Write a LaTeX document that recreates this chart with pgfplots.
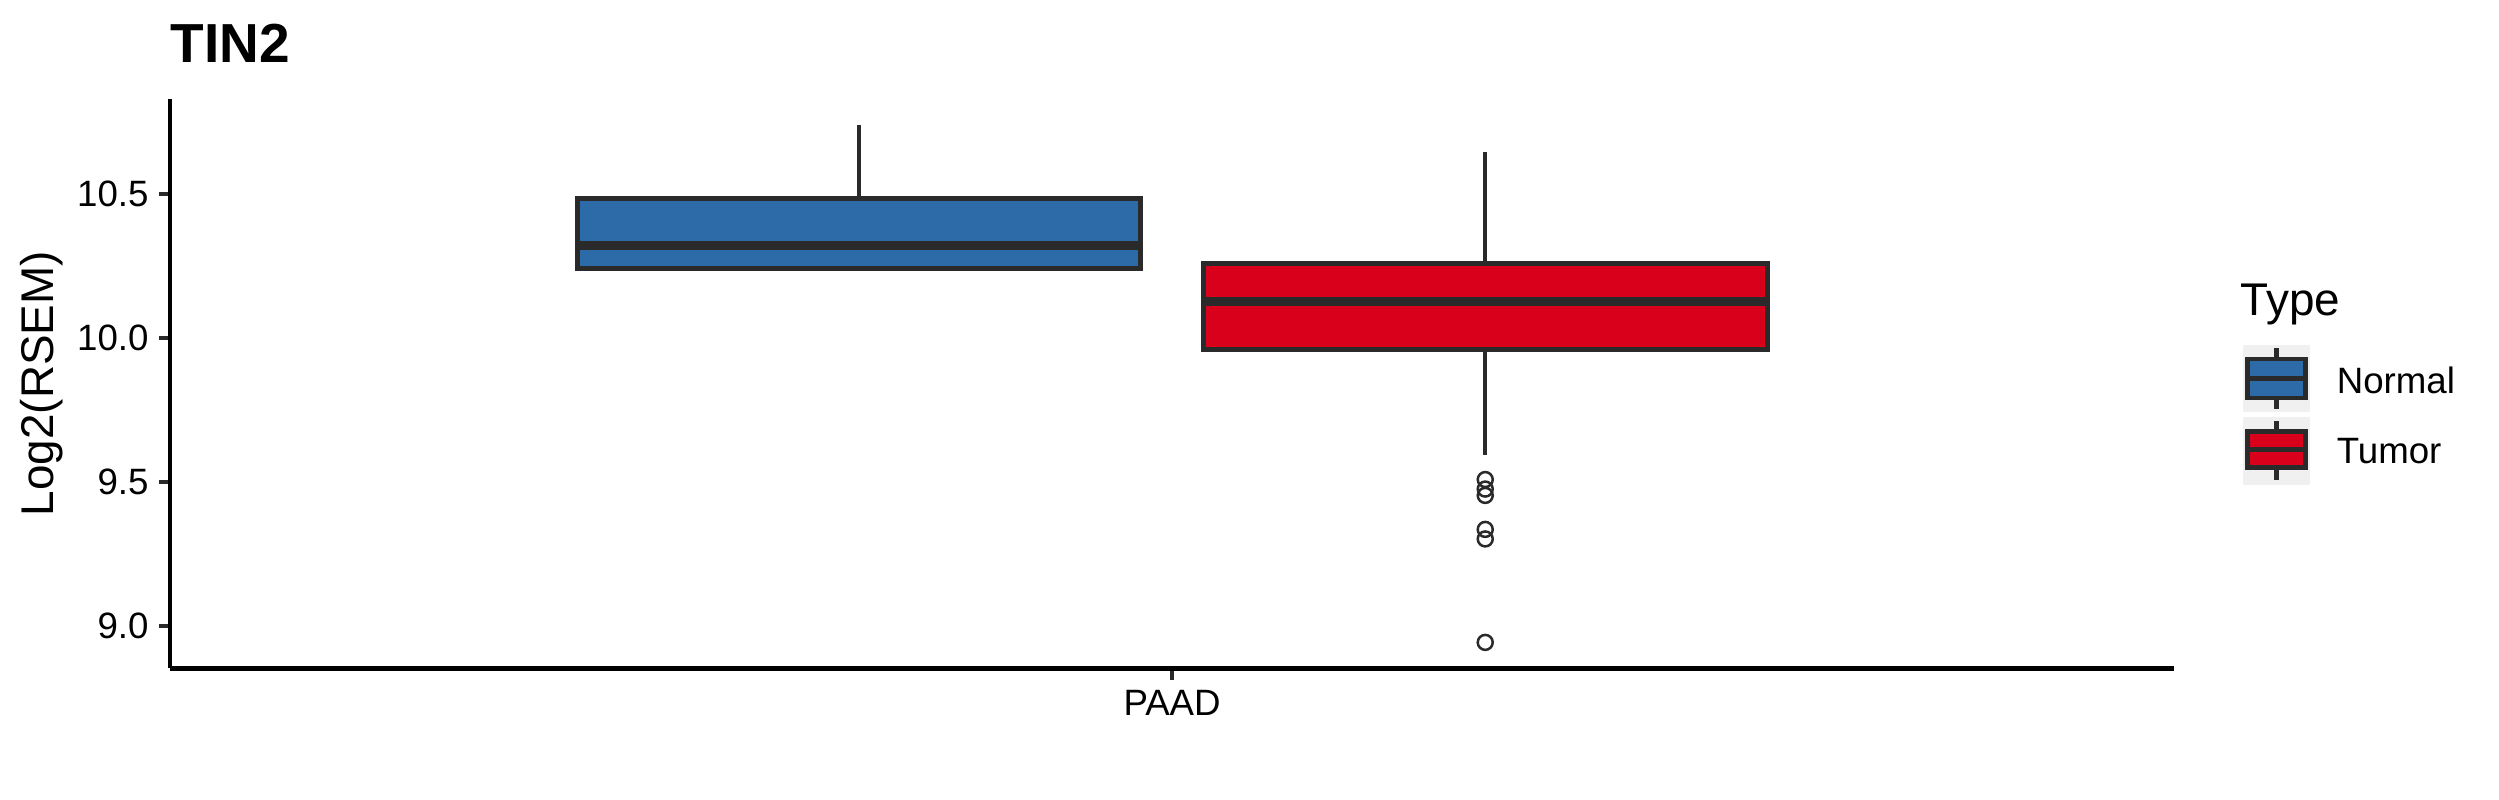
\documentclass[border=0pt]{standalone}
\usepackage{pgfplots}
\pgfplotsset{compat=1.18}
\usepackage{fontspec}
\setmainfont{Liberation Sans}
\definecolor{nblue}{HTML}{2C6AA8}
\definecolor{tred}{HTML}{D8001A}
\definecolor{edge}{HTML}{2A2A2A}
\definecolor{keybg}{HTML}{F0F0F0}

\begin{document}
\begin{tikzpicture}
\begin{axis}[
    scale only axis,
    width=481pt, height=136.6pt,
    xmin=0.4, xmax=1.6,
    ymin=8.854, ymax=10.829,
    axis lines=left,
    axis line style={-, line width=1.07pt, black},
    xtick={1}, xticklabels={PAAD},
    ytick={9,9.5,10,10.5},
    tick align=outside,
    major tick length=2.75pt,
    tick style={line width=1.07pt, color=edge},
    tick label style={font=\fontsize{8.8}{10}\selectfont, text=black, inner sep=0pt},
    yticklabel style={anchor=east, xshift=-2.2pt,
        /pgf/number format/.cd, fixed, fixed zerofill, precision=1, assume math mode=true},
    xticklabel style={anchor=north, yshift=-2.2pt},
    whisk/.style={edge, line width=1.07pt, mark=none},
    box/.style={draw=edge, line width=1.2pt, mark=none},
    med/.style={edge, line width=2.13pt, mark=none},
]
% Normal: whiskers, box (Q1..Q3), median
\addplot[whisk] coordinates {(0.8125,10.485) (0.8125,10.739)};
\addplot[whisk] coordinates {(0.8125,10.243) (0.8125,10.232)};
\addplot[box, fill=nblue] coordinates {
    (0.64375,10.243) (0.98125,10.243) (0.98125,10.485) (0.64375,10.485)} -- cycle;
\addplot[med] coordinates {(0.64375,10.321) (0.98125,10.321)};
% Tumor
\addplot[whisk] coordinates {(1.1875,10.259) (1.1875,10.645)};
\addplot[whisk] coordinates {(1.1875,9.961) (1.1875,9.595)};
\addplot[box, fill=tred] coordinates {
    (1.01875,9.961) (1.35625,9.961) (1.35625,10.259) (1.01875,10.259)} -- cycle;
\addplot[med] coordinates {(1.01875,10.127) (1.35625,10.127)};
% Tumor outliers
\addplot[only marks, mark=o, mark size=1.8pt, draw=edge, line width=0.6pt] coordinates {
    (1.1875,9.509) (1.1875,9.476) (1.1875,9.454)
    (1.1875,9.336) (1.1875,9.303) (1.1875,8.944)
};
\coordinate (SW) at (rel axis cs:0,0);
\coordinate (NW) at (rel axis cs:0,1);
\end{axis}

% title and axis title
\node[anchor=base west, inner sep=0pt, font=\bfseries\fontsize{13.2}{15}\selectfont]
    at ([yshift=8.8pt]NW) {TIN2};
\path (SW) -- (NW) node[midway, rotate=90, anchor=center, yshift=30.8pt,
    font=\fontsize{11}{13}\selectfont, inner sep=0pt] {Log2(RSEM)};

% legend (coordinates in pixels of the 1562x500 frame, y downward)
\coordinate (TL) at ([shift={(-40.8pt,160.4pt)}]SW);
\begin{scope}[shift={(TL)}, x=0.384pt, y=-0.384pt]
  \node[anchor=base west, inner sep=0pt, font=\fontsize{11}{13}\selectfont] at (1400,196.9) {Type};
  % Normal key
  \fill[keybg] (1401.6,215.6) rectangle (1443.5,257.7);
  \draw[edge, line width=1.07pt] (1422.9,217.7) -- (1422.9,255.8);
  \filldraw[fill=nblue, draw=edge, line width=1.07pt] (1404.8,224.4) rectangle (1440.8,248.9);
  \draw[edge, line width=1.07pt] (1404.8,236.5) -- (1440.8,236.5);
  \node[anchor=base west, inner sep=0pt, font=\fontsize{8.8}{10}\selectfont] at (1460,245.8) {Normal};
  % Tumor key
  \fill[keybg] (1401.6,260.4) rectangle (1443.5,303.1);
  \draw[edge, line width=1.07pt] (1422.9,263.1) -- (1422.9,300.0);
  \filldraw[fill=tred, draw=edge, line width=1.07pt] (1404.8,269.8) rectangle (1440.8,292.1);
  \draw[edge, line width=1.07pt] (1404.8,281.0) -- (1440.8,281.0);
  \node[anchor=base west, inner sep=0pt, font=\fontsize{8.8}{10}\selectfont] at (1460,289.6) {Tumor};
\end{scope}

\pgfresetboundingbox
\path[use as bounding box] (TL) rectangle ([shift={(599.76pt,-192pt)}]TL);
\end{tikzpicture}
\end{document}
